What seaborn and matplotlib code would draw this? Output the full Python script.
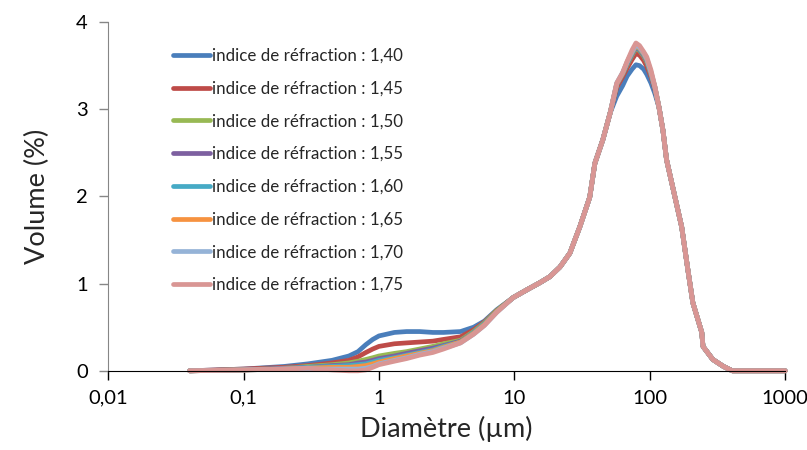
#!/usr/bin/env python3

import numpy as np
import pandas as pd
import matplotlib
matplotlib.use("Agg")
import matplotlib.pyplot as plt
import seaborn as sns

sns.set_style("white")
plt.rcParams['font.family'] = ['Lato', 'DejaVu Sans']

indices = ["1,40", "1,45", "1,50", "1,55", "1,60", "1,65", "1,70", "1,75"]
couleurs = ["#4A7EBB", "#BE4B48", "#98B954", "#7D60A0",
            "#46AAC5", "#F69240", "#95B3D7", "#D99694"]

# fine particles: each index differs here
diam_bas = [0.04, 0.1, 0.2, 0.3, 0.45, 0.6, 0.7, 0.8, 0.9, 1.0, 1.3, 1.6, 2.0, 2.5, 3.0, 4.0, 5.0, 6.0, 7.4]
bas_140 = [0, 0.02, 0.05, 0.08, 0.12, 0.17, 0.22, 0.30, 0.36, 0.40, 0.44, 0.45, 0.45, 0.44, 0.44, 0.45, 0.50, 0.57, 0.70]
bas_145 = [0, 0.02, 0.04, 0.06, 0.09, 0.12, 0.16, 0.21, 0.25, 0.28, 0.31, 0.32, 0.33, 0.34, 0.36, 0.39, 0.47, 0.56, 0.69]
bas_150 = [0, 0.01, 0.03, 0.05, 0.07, 0.09, 0.11, 0.13, 0.15, 0.17, 0.20, 0.22, 0.25, 0.28, 0.31, 0.35, 0.45, 0.55, 0.69]
bas_155 = [0, 0.01, 0.03, 0.04, 0.06, 0.07, 0.09, 0.10, 0.12, 0.14, 0.17, 0.20, 0.23, 0.26, 0.29, 0.34, 0.44, 0.54, 0.68]
bas_160 = [0, 0.01, 0.02, 0.04, 0.05, 0.06, 0.07, 0.08, 0.10, 0.12, 0.15, 0.18, 0.21, 0.24, 0.28, 0.33, 0.44, 0.54, 0.68]
bas_165 = [0, 0.01, 0.02, 0.03, 0.04, 0.04, 0.05, 0.06, 0.08, 0.10, 0.14, 0.17, 0.20, 0.23, 0.27, 0.33, 0.43, 0.53, 0.68]
bas_170 = [0, 0.01, 0.02, 0.02, 0.02, 0.02, 0.02, 0.03, 0.05, 0.08, 0.12, 0.15, 0.19, 0.22, 0.26, 0.32, 0.42, 0.52, 0.67]
bas_175 = [0, 0.01, 0.02, 0.03, 0.01, 0.00, 0.00, 0.01, 0.04, 0.07, 0.11, 0.14, 0.18, 0.21, 0.25, 0.32, 0.42, 0.52, 0.67]

# rising side, same for all
diam_mont = [9.8, 12.4, 15.4, 18.3, 21.7, 25.7, 30.4, 36, 39.3, 45, 51]
mont = [0.84, 0.93, 1.01, 1.08, 1.19, 1.35, 1.65, 1.99, 2.38, 2.65, 2.96]

# peak
diam_pic = [57, 63, 68, 74, 79, 84, 90, 95, 102, 109]
pic_140 = [3.15, 3.27, 3.38, 3.46, 3.51, 3.50, 3.46, 3.40, 3.30, 3.18]
pic_145 = [3.25, 3.37, 3.47, 3.57, 3.64, 3.62, 3.56, 3.49, 3.37, 3.23]
pic_150 = [3.28, 3.40, 3.51, 3.62, 3.70, 3.67, 3.61, 3.54, 3.40, 3.25]
pic_155 = [3.28, 3.40, 3.52, 3.63, 3.71, 3.68, 3.62, 3.55, 3.40, 3.25]
pic_160 = [3.29, 3.41, 3.53, 3.64, 3.72, 3.69, 3.63, 3.56, 3.41, 3.25]
pic_165 = [3.29, 3.41, 3.54, 3.65, 3.73, 3.70, 3.64, 3.57, 3.42, 3.26]
pic_170 = [3.30, 3.42, 3.54, 3.66, 3.74, 3.71, 3.65, 3.58, 3.43, 3.26]
pic_175 = [3.30, 3.42, 3.55, 3.68, 3.76, 3.73, 3.66, 3.60, 3.45, 3.26]

# falling side, same for all
diam_desc = [117, 125, 133, 153, 172, 191, 208, 242, 247, 292, 350, 407, 1000]
desc = [3.02, 2.76, 2.42, 2.00, 1.65, 1.16, 0.78, 0.44, 0.28, 0.13, 0.05, 0.0, 0.0]

bas = [bas_140, bas_145, bas_150, bas_155, bas_160, bas_165, bas_170, bas_175]
pics = [pic_140, pic_145, pic_150, pic_155, pic_160, pic_165, pic_170, pic_175]

rows = []
for ind, b, p in zip(indices, bas, pics):
    d = diam_bas + diam_mont + diam_pic + diam_desc
    v = b + mont + p + desc
    for x, y in zip(d, v):
        rows.append({"d": x, "v": y, "serie": "indice de réfraction : " + ind})
df = pd.DataFrame(rows)

fig = plt.figure(figsize=(8.07, 4.5), dpi=100)
ax = fig.add_axes([0.134, 0.176, 0.839, 0.775])
sns.lineplot(data=df, x="d", y="v", hue="serie", palette=couleurs, lw=3.4,
             sort=False, estimator=None, ax=ax, clip_on=False)
for ln in ax.lines:
    ln.set_solid_joinstyle("round")
    ln.set_solid_capstyle("round")

ax.set_xscale("log")
ax.set_xlim(0.01, 1000)
ax.set_ylim(0, 4)
ax.set_xticks([0.01, 0.1, 1, 10, 100, 1000])
ax.set_xticklabels(["0,01", "0,1", "1", "10", "100", "1000"])
ax.xaxis.set_minor_locator(matplotlib.ticker.NullLocator())
ax.set_yticks([0, 1, 2, 3, 4])
ax.tick_params(axis="both", labelsize=14.5, labelcolor="black", direction="out",
               length=6.5, width=1, bottom=True, left=True)
ax.tick_params(axis="x", pad=7, color="black")
ax.tick_params(axis="y", pad=8, color="#868686")
for s in ["top", "right"]:
    ax.spines[s].set_visible(False)
ax.spines["left"].set_color("#868686")
ax.spines["bottom"].set_color("black")
ax.set_xlabel("Diamètre (µm)", fontsize=19.5, labelpad=7)
ax.set_ylabel("Volume (%)", fontsize=19.5, labelpad=19)

leg = ax.legend(loc="upper left", bbox_to_anchor=(0.0864, 0.946), frameon=False,
                fontsize=12.2, handlelength=2.15, handletextpad=0.1,
                labelspacing=0.99, borderaxespad=0)
for h in leg.get_lines():
    h.set_linewidth(3.4)

fig.savefig("out.png", dpi=100)
